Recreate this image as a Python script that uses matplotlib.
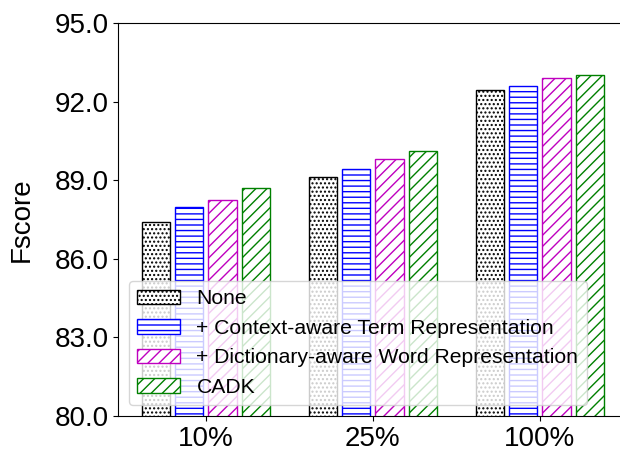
import numpy as np
import matplotlib
matplotlib.use('Agg')
import matplotlib.pyplot as plt

plt.rcParams['font.family'] = ['Liberation Sans', 'DejaVu Sans']

groups = ['10%', '25%', '100%']
labels = ['None', '+ Context-aware Term Representation',
          '+ Dictionary-aware Word Representation', 'CADK']
none_vals = [87.42, 89.13, 92.44]
context_vals = [87.97, 89.42, 92.60]
dict_vals = [88.25, 89.82, 92.90]
cadk_vals = [88.70, 90.12, 93.04]
yticks = [80.0, 83.0, 86.0, 89.0, 92.0, 95.0]

series = [none_vals, context_vals, dict_vals, cadk_vals]
colors = ['black', 'blue', 'm', 'green']
hatches = ['....', '---', '///', '///']

fig = plt.figure(figsize=(6.2, 4.5), dpi=100)
ax = fig.add_axes([0.1908, 0.0756, 0.82, 0.8727])

x = np.arange(len(groups))
w = 0.17
offsets = [-0.3, -0.1, 0.1, 0.3]
for vals, c, h, lab, off in zip(series, colors, hatches, labels, offsets):
    ax.bar(x + off, vals, w, color='white', edgecolor=c, hatch=h,
           linewidth=1.0, label=lab)

ax.set_xlim(-0.524, 2.52)
ax.set_ylim(80, 95)
ax.set_yticks(yticks)
ax.set_yticklabels(['%.1f' % v for v in yticks], fontsize=20)
ax.set_xticks(x)
ax.set_xticklabels(groups, fontsize=20)
ax.set_ylabel('Fscore', fontsize=20)
ax.yaxis.set_label_coords(-0.165, 0.5)
ax.spines['right'].set_visible(False)
ax.legend(loc='lower left', fontsize=15.2)

fig.savefig('out.png', dpi=100)
